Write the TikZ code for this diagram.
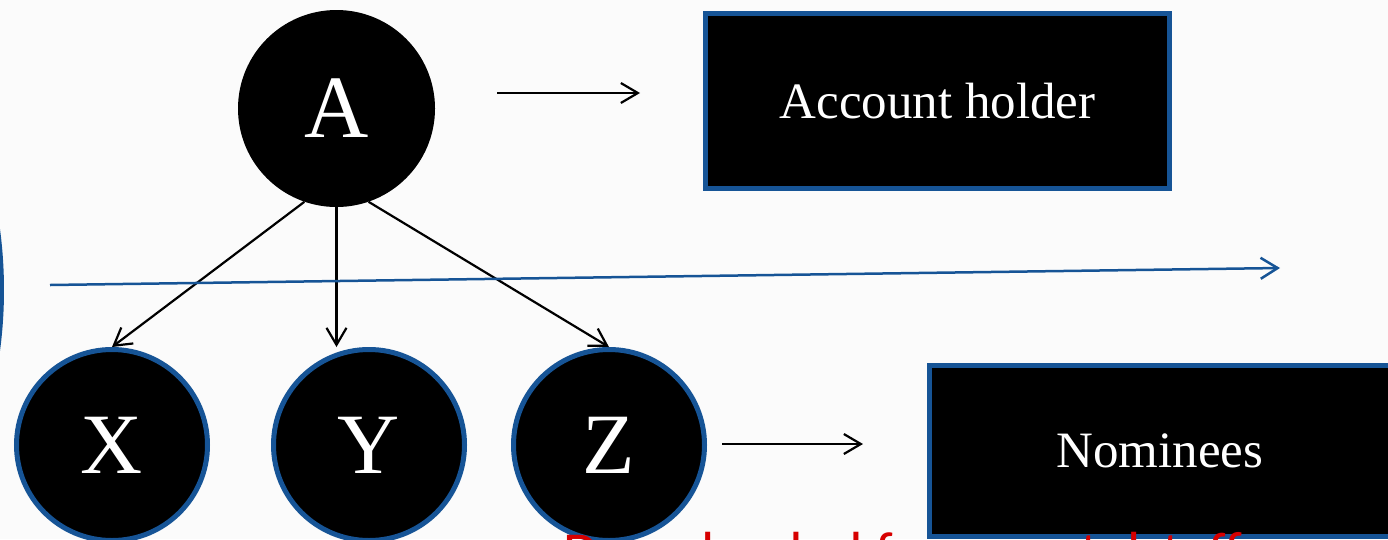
\documentclass[tikz,border=0pt]{standalone}
\usepackage{fontspec}
\setmainfont{Liberation Serif}
\newfontfamily\wmfont{Carlito}
\usetikzlibrary{arrows.meta}
\definecolor{edgeblue}{RGB}{22,84,150}
\definecolor{wmred}{RGB}{215,0,0}
\definecolor{paper}{RGB}{251,251,251}

\begin{document}
\begin{tikzpicture}[x=1pt,y=-1pt,
  toparrow/.style={line width=2.2pt, -{Straight Barb[length=17pt,width=20pt,line width=2.2pt]}},
  bluearrow/.style={draw=edgeblue, line width=2.5pt, -{Straight Barb[length=17pt,width=21pt,line width=2.5pt]}},
  rootnode/.style={circle, fill=black, inner sep=0pt, minimum size=197pt,
    text=white, font=\fontsize{89}{89}\selectfont},
  leafnode/.style={circle, fill=black, draw=edgeblue, line width=5pt, inner sep=0pt,
    minimum size=191pt, text=white, font=\fontsize{86}{86}\selectfont},
  rolebox/.style={rectangle, fill=black, draw=edgeblue, line width=5pt, inner sep=0pt,
    text=white, font=\fontsize{51}{51}\selectfont}]

\useasboundingbox (0,0) rectangle (1388,539);
\clip (0,0) rectangle (1388,539);
\fill[paper] (0,0) rectangle (1388,539);

% edge of a large ring leaving the left side
\draw[edgeblue, line width=4pt] ([shift={(-14:464)}]-462,290) arc[start angle=-14, end angle=14, radius=464];

% nodes
\node[rootnode] (A) at (336.5,108.5) {A};
\node[leafnode] (X) at (112,445) {X};
\node[leafnode] (Y) at (369,445) {Y};
\node[leafnode] (Z) at (609,445) {Z};
\node[rolebox, minimum width=464pt, minimum height=175pt] (holder) at (937.5,101) {Account holder};
\node[rolebox, minimum width=461pt, minimum height=171pt] (nominees) at (1160,451) {Nominees};

% tree connectors
\draw[toparrow] (A.251) -- (X.north);
\draw[toparrow] (A.south) -- (Y.north -| A.south);
\draw[toparrow] (A.289) -- (Z.north);

% pointer arrows to the role boxes
\coordinate (h1) at (497,93);
\coordinate (h2) at (640,93);
\coordinate (n1) at (722,444);
\coordinate (n2) at (863,444);
\draw[toparrow] (h1) -- (h2);
\draw[toparrow] (n1) -- (n2);

% dividing arrow between the two levels
\coordinate (d1) at (50,285);
\coordinate (d2) at (1280,268);
\draw[bluearrow] (d1) -- (d2);

% footer line running off the bottom edge
\node[anchor=base west, inner sep=0pt, text=wmred, font=\wmfont\fontsize{58}{58}\selectfont] (footer) at (563,572) {Downloaded from rentalstaff};
\end{tikzpicture}
\end{document}
